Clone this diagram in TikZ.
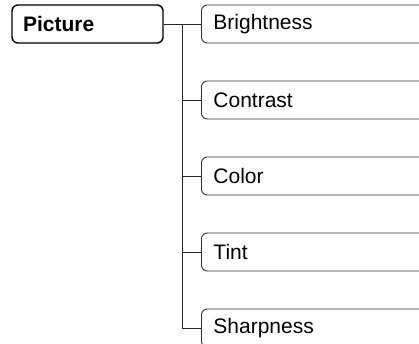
\documentclass[tikz,border=0pt]{standalone}
\usepackage{fontspec}
\setmainfont{Liberation Sans}
\usepackage{tikz}
\usetikzlibrary{positioning}
\tikzstyle{parent}=[draw=black,line width=1.4pt,rounded corners=6pt,minimum width=151pt,minimum height=38pt,inner xsep=11pt,text width=129pt,align=left,font=\fontsize{21}{25}\selectfont\bfseries]
\tikzstyle{child}=[draw=black!80,line width=0.9pt,rounded corners=6pt,anchor=west,minimum height=38pt,inner xsep=12pt,text width=236pt,align=left,font=\fontsize{21}{25}\selectfont]
\tikzstyle{link}=[draw=black!85,line width=0.9pt]

\begin{document}
\begin{tikzpicture}[x=1pt, y=-1pt]
	\useasboundingbox (0,0) rectangle (419,344);
	\clip (0,0) rectangle (419,344);
	\node[parent] (pic) at (87.5,24) {Picture};
	\node[child] (bright) at (201,24) {Brightness};
	\node[child] (contr) at (201,100) {Contrast};
	\node[child] (col) at (201,176) {Color};
	\node[child] (tint) at (201,252) {Tint};
	\node[child] (sharp) at (201,328) {Sharpness};
	\coordinate (junc) at (182,24);
	\draw[link] (pic) -- (bright);
	\draw[link] (junc) |- (contr.west);
	\draw[link] (junc) |- (col.west);
	\draw[link] (junc) |- (tint.west);
	\draw[link] (junc) |- (sharp.west);
\end{tikzpicture}
\end{document}
